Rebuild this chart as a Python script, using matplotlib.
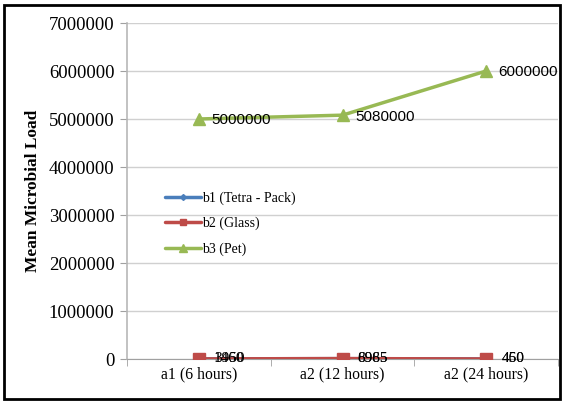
import matplotlib
matplotlib.use("Agg")
import matplotlib.pyplot as plt
from matplotlib.patches import Rectangle

categories = ["a1 (6 hours)", "a2 (12 hours)", "a2 (24 hours)"]
series_names = ["b1 (Tetra - Pack)", "b2 (Glass)", "b3 (Pet)"]
b1 = [3950, 6985, 450]
b2 = [1460, 8965, 460]
b3 = [5000000, 5080000, 6000000]
yticks = [0, 1000000, 2000000, 3000000, 4000000, 5000000, 6000000, 7000000]

colors = ["#4A7EBB", "#BE4B48", "#98B954"]
markers = ["D", "s", "^"]
msizes = [5, 8, 9]

plt.rcParams["font.family"] = ["Liberation Serif", "DejaVu Serif"]

fig = plt.figure(figsize=(5.62, 4.03), dpi=100)
ax = fig.add_axes([127/562, (403-359)/403, (558-127)/562, (359-23)/403])

x = list(range(len(categories)))
for vals, name, c, m, ms in zip([b1, b2, b3], series_names, colors, markers, msizes):
    ax.plot(x, vals, color=c, marker=m, markersize=ms, linewidth=2.5, label=name,
            solid_capstyle="round", zorder=3)

# data labels
for vals in [b1, b2]:
    for xi, v in zip(x, vals):
        ax.annotate(str(v), (xi, v), xytext=(11, 0), textcoords="offset points",
                    va="center", ha="left", fontsize=11, family=["Liberation Serif"], zorder=4)
for xi, v in zip(x, b3):
    ax.annotate(str(v), (xi, v), xytext=(9, -1), textcoords="offset points",
                va="center", ha="left", fontsize=11, family=["Liberation Sans"], zorder=4)

ax.set_xlim(-0.5, 2.5)
ax.set_ylim(0, 7000000)
ax.set_yticks(yticks)
ax.set_yticklabels([str(t) for t in yticks], fontsize=13.5)
ax.set_xticks(x)
ax.set_xticklabels(categories, fontsize=11.3)
ax.set_xticks([-0.5, 0.5, 1.5, 2.5], minor=True)
ax.tick_params(axis="x", which="major", length=0, pad=5)
ax.tick_params(axis="x", which="minor", length=5, color="#A0A0A0", direction="out")
ax.tick_params(axis="y", length=5, color="#A0A0A0", direction="out", pad=4)
ax.grid(axis="y", color="#D0D0D0", linewidth=1)
ax.set_axisbelow(True)
for s in ["top", "right"]:
    ax.spines[s].set_visible(False)
ax.spines["left"].set_color("#B8B8B8")
ax.spines["bottom"].set_color("#A0A0A0")
ax.spines["left"].set_linewidth(1.2)

ax.set_ylabel("Mean Microbial Load", fontsize=12.5, fontweight="bold", labelpad=6)

leg = ax.legend(loc="upper left", bbox_to_anchor=(0.075, 0.515), frameon=False,
                fontsize=10, handlelength=2.6, handletextpad=0.1, labelspacing=0.85,
                borderaxespad=0, markerscale=0.6)

fig.patches.append(Rectangle((4/562, 4/403), 556/562, 394/403, transform=fig.transFigure,
                             fill=False, edgecolor="black", linewidth=2))

fig.savefig("out.png", dpi=100)
